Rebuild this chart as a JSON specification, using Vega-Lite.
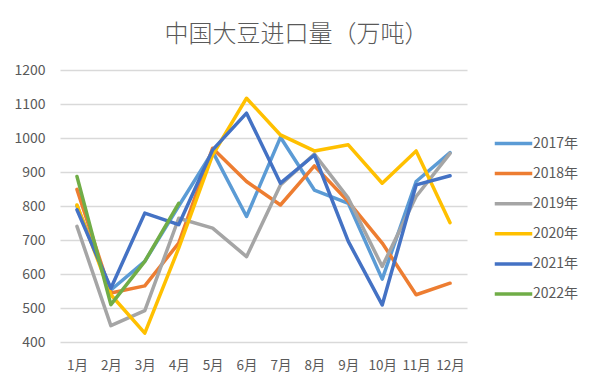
{
  "$schema": "https://vega.github.io/schema/vega-lite/v6.json",
  "autosize": "none",
  "width": 407,
  "height": 272,
  "padding": {"left": 60, "top": 70, "right": 133, "bottom": 44},
  "background": "white",
  "title": {
    "text": "中国大豆进口量（万吨）",
    "anchor": "middle",
    "frame": "group",
    "fontSize": 24,
    "font": "Noto Sans CJK SC",
    "fontWeight": 300,
    "color": "#595959",
    "offset": 16,
    "dx": 33
  },
  "config": {
    "view": {"stroke": null},
    "font": "Noto Sans CJK SC"
  },
  "data": {
    "values": [
      {"month": "1月", "year": "2017年", "value": 800},
      {"month": "2月", "year": "2017年", "value": 553},
      {"month": "3月", "year": "2017年", "value": 637},
      {"month": "4月", "year": "2017年", "value": 800},
      {"month": "5月", "year": "2017年", "value": 960},
      {"month": "6月", "year": "2017年", "value": 769},
      {"month": "7月", "year": "2017年", "value": 1002},
      {"month": "8月", "year": "2017年", "value": 847},
      {"month": "9月", "year": "2017年", "value": 808},
      {"month": "10月", "year": "2017年", "value": 585},
      {"month": "11月", "year": "2017年", "value": 872},
      {"month": "12月", "year": "2017年", "value": 957},

      {"month": "1月", "year": "2018年", "value": 849},
      {"month": "2月", "year": "2018年", "value": 544},
      {"month": "3月", "year": "2018年", "value": 565},
      {"month": "4月", "year": "2018年", "value": 691},
      {"month": "5月", "year": "2018年", "value": 970},
      {"month": "6月", "year": "2018年", "value": 872},
      {"month": "7月", "year": "2018年", "value": 803},
      {"month": "8月", "year": "2018年", "value": 918},
      {"month": "9月", "year": "2018年", "value": 813},
      {"month": "10月", "year": "2018年", "value": 691},
      {"month": "11月", "year": "2018年", "value": 539},
      {"month": "12月", "year": "2018年", "value": 573},

      {"month": "1月", "year": "2019年", "value": 740},
      {"month": "2月", "year": "2019年", "value": 448},
      {"month": "3月", "year": "2019年", "value": 492},
      {"month": "4月", "year": "2019年", "value": 764},
      {"month": "5月", "year": "2019年", "value": 735},
      {"month": "6月", "year": "2019年", "value": 651},
      {"month": "7月", "year": "2019年", "value": 862},
      {"month": "8月", "year": "2019年", "value": 953},
      {"month": "9月", "year": "2019年", "value": 823},
      {"month": "10月", "year": "2019年", "value": 622},
      {"month": "11月", "year": "2019年", "value": 828},
      {"month": "12月", "year": "2019年", "value": 955},

      {"month": "1月", "year": "2020年", "value": 803},
      {"month": "2月", "year": "2020年", "value": 539},
      {"month": "3月", "year": "2020年", "value": 426},
      {"month": "4月", "year": "2020年", "value": 676},
      {"month": "5月", "year": "2020年", "value": 950},
      {"month": "6月", "year": "2020年", "value": 1117},
      {"month": "7月", "year": "2020年", "value": 1009},
      {"month": "8月", "year": "2020年", "value": 962},
      {"month": "9月", "year": "2020年", "value": 980},
      {"month": "10月", "year": "2020年", "value": 867},
      {"month": "11月", "year": "2020年", "value": 962},
      {"month": "12月", "year": "2020年", "value": 751},

      {"month": "1月", "year": "2021年", "value": 789},
      {"month": "2月", "year": "2021年", "value": 558},
      {"month": "3月", "year": "2021年", "value": 779},
      {"month": "4月", "year": "2021年", "value": 745},
      {"month": "5月", "year": "2021年", "value": 965},
      {"month": "6月", "year": "2021年", "value": 1073},
      {"month": "7月", "year": "2021年", "value": 867},
      {"month": "8月", "year": "2021年", "value": 950},
      {"month": "9月", "year": "2021年", "value": 696},
      {"month": "10月", "year": "2021年", "value": 509},
      {"month": "11月", "year": "2021年", "value": 862},
      {"month": "12月", "year": "2021年", "value": 889},

      {"month": "1月", "year": "2022年", "value": 887},
      {"month": "2月", "year": "2022年", "value": 510},
      {"month": "3月", "year": "2022年", "value": 637},
      {"month": "4月", "year": "2022年", "value": 808}
    ]
  },
  "mark": {"type": "line", "strokeWidth": 3.5, "strokeJoin": "round", "strokeCap": "round"},
  "encoding": {
    "x": {
      "field": "month",
      "type": "ordinal",
      "sort": ["1月","2月","3月","4月","5月","6月","7月","8月","9月","10月","11月","12月"],
      "scale": {"type": "point", "padding": 0.5},
      "axis": {
        "title": null,
        "labelAngle": 0,
        "domain": false,
        "ticks": false,
        "grid": false,
        "labelFontSize": 13.5,
        "labelColor": "#595959",
        "labelPadding": 16
      }
    },
    "y": {
      "field": "value",
      "type": "quantitative",
      "scale": {"domain": [400, 1200], "nice": false, "zero": false},
      "axis": {
        "title": null,
        "format": "d",
        "values": [400,500,600,700,800,900,1000,1100,1200],
        "domain": false,
        "ticks": false,
        "gridColor": "#D9D9D9",
        "gridWidth": 1.3,
        "labelFontSize": 14,
        "labelColor": "#595959",
        "labelPadding": 15
      }
    },
    "color": {
      "field": "year",
      "type": "nominal",
      "scale": {
        "domain": ["2017年","2018年","2019年","2020年","2021年","2022年"],
        "range": ["#5B9BD5","#ED7D31","#A5A5A5","#FFC000","#4472C4","#70AD47"]
      },
      "legend": {
        "title": null,
        "orient": "none",
        "legendX": 444,
        "legendY": 64,
        "padding": 0,
        "symbolType": "M-2.5,0H2.5",
        "symbolSize": 225,
        "symbolStrokeWidth": 3.5,
        "labelOffset": 10,
        "labelFontSize": 14,
        "labelColor": "#595959",
        "rowPadding": 13.1
      }
    }
  }
}
